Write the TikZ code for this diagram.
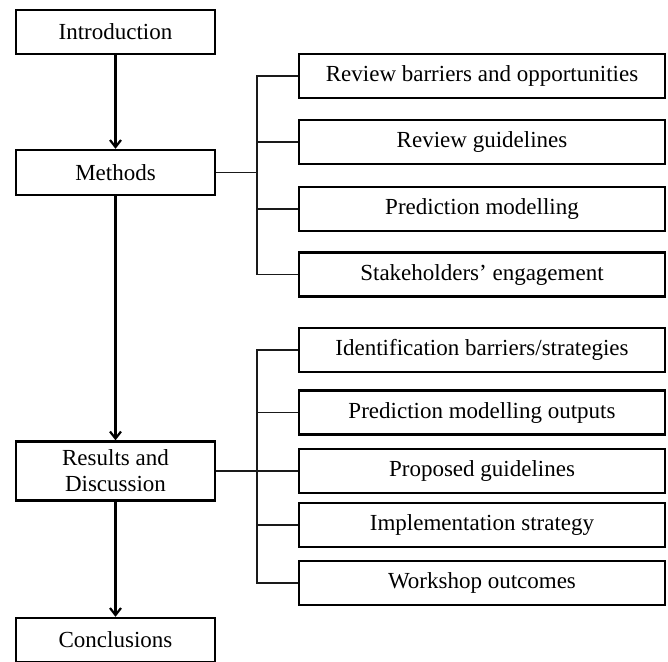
\documentclass[tikz,border=0pt]{standalone}
\usepackage{fontspec}
\setmainfont{Liberation Serif}
\usepackage{xcolor}
\usetikzlibrary{arrows.meta}
\definecolor{box-line}{HTML}{000000}
\definecolor{bus-line}{HTML}{1A1A1A}

\begin{document}
\begin{tikzpicture}[x=1pt, y=-1pt,
        every node/.style={font=\fontsize{23}{26}\selectfont},
        stage/.style={draw=box-line, line width=2.4pt, fill=white,
            minimum width=199pt, align=center, inner sep=0pt},
        task/.style={draw=box-line, line width=2.4pt, fill=white,
            minimum width=366pt, minimum height=44pt, inner sep=0pt},
        flow/.style={-{Straight Barb[length=7pt, width=11pt]}, line width=2.2pt},
        bus/.style={line width=1.3pt, bus-line}]
      \useasboundingbox (0,0) rectangle (668,661);
      % main column
      \node[stage, minimum height=44pt] (INTRO) at (115.5,32) {Introduction};
      \node[stage, minimum height=45pt] (METH) at (115.5,172.5) {Methods};
      \node[stage, minimum height=59pt] (RES) at (115.5,471)
            {Results and\\Discussion};
      \node[stage, minimum height=44pt] (CONC) at (115.5,640) {Conclusions};
      \draw[flow] (INTRO) -- (METH);
      \draw[flow] (METH) -- (RES);
      \draw[flow] (RES) -- (CONC);
      % methods branches
      \node[task] (REVB) at (482,76) {Review barriers and opportunities};
      \node[task] (REVG) at (482,142) {Review guidelines};
      \node[task] (PRED) at (482,209) {Prediction modelling};
      \node[task] (STAKE) at (482,274.5) {Stakeholders’ engagement};
      \coordinate (MBUS) at (257,172.5);
      \draw[bus] (METH.east) -- (MBUS);
      \draw[bus] (REVB.west) -| (MBUS);
      \draw[bus] (STAKE.west) -| (MBUS);
      \draw[bus] (REVG.west) -- (REVG.west -| MBUS);
      \draw[bus] (PRED.west) -- (PRED.west -| MBUS);
      % results branches
      \node[task] (IDEN) at (482,350) {Identification barriers/strategies};
      \node[task] (PREDO) at (482,412.5) {Prediction modelling outputs};
      \node[task] (PROP) at (482,471) {Proposed guidelines};
      \node[task] (IMPL) at (482,525) {Implementation strategy};
      \node[task] (WORK) at (482,583) {Workshop outcomes};
      \coordinate (RBUS) at (257,471);
      \draw[bus] (RES.east) -- (PROP.west);
      \draw[bus] (IDEN.west) -| (RBUS);
      \draw[bus] (WORK.west) -| (RBUS);
      \draw[bus] (PREDO.west) -- (PREDO.west -| RBUS);
      \draw[bus] (IMPL.west) -- (IMPL.west -| RBUS);
\end{tikzpicture}
\end{document}
